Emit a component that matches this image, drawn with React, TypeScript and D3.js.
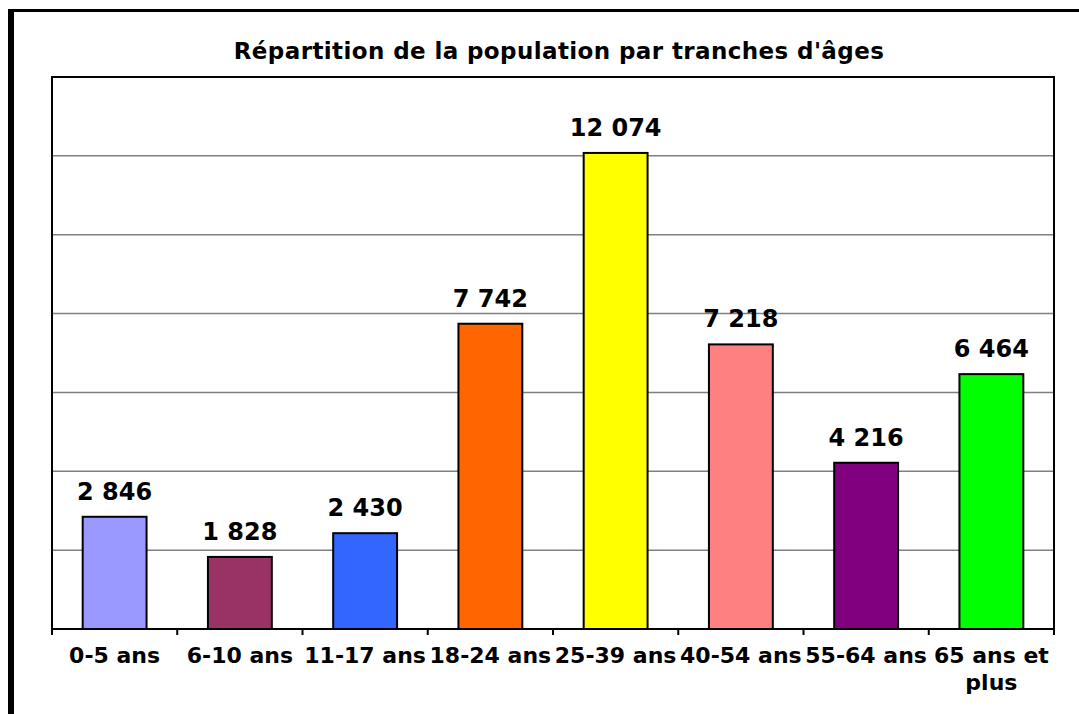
import React, { useEffect, useRef } from 'react';
import * as d3 from 'd3';

const categories = ['0-5 ans', '6-10 ans', '11-17 ans', '18-24 ans', '25-39 ans', '40-54 ans', '55-64 ans', '65 ans et plus'];
const values = [2846, 1828, 2430, 7742, 12074, 7218, 4216, 6464];
const barColors = ['#9999FF', '#993366', '#3366FF', '#FF6600', '#FFFF00', '#FF8080', '#800080', '#00FF00'];
const yTicks = [0, 2000, 4000, 6000, 8000, 10000, 12000, 14000];
const title = "Répartition de la population par tranches d'âges";

const App = () => {
  const svgRef = useRef<SVGSVGElement>(null);

  useEffect(() => {
    const W = 1079, H = 714;
    const plot = { left: 52, right: 1054, top: 77, bottom: 629 };
    const font = "'DejaVu Sans', Verdana, sans-serif";

    const svg = d3.select(svgRef.current);
    svg.selectAll('*').remove();
    svg.attr('width', W).attr('height', H);

    svg.append('rect').attr('width', W).attr('height', H).attr('fill', '#fff');

    // outer frame (top and left edges visible)
    svg.append('line').attr('x1', 8).attr('x2', W).attr('y1', 10.5).attr('y2', 10.5)
      .attr('stroke', '#000').attr('stroke-width', 3);
    svg.append('line').attr('x1', 11).attr('x2', 11).attr('y1', 9).attr('y2', H)
      .attr('stroke', '#000').attr('stroke-width', 6);

    svg.append('text')
      .attr('x', 559).attr('y', 59)
      .attr('text-anchor', 'middle')
      .attr('font-family', font).attr('font-weight', 'bold').attr('font-size', 23)
      .attr('letter-spacing', 0.4)
      .text(title);

    const x = d3.scaleBand<string>()
      .domain(categories)
      .range([plot.left, plot.right])
      .paddingInner(0.49)
      .paddingOuter(0.245);

    const y = d3.scaleLinear()
      .domain([0, d3.max(yTicks) as number])
      .range([plot.bottom, plot.top]);

    // gridlines
    svg.append('g').selectAll('line')
      .data(yTicks.slice(1, -1))
      .enter().append('line')
      .attr('x1', plot.left).attr('x2', plot.right)
      .attr('y1', d => y(d)).attr('y2', d => y(d))
      .attr('stroke', '#808080').attr('stroke-width', 1.5);

    // plot area border
    svg.append('rect')
      .attr('x', plot.left).attr('y', plot.top)
      .attr('width', plot.right - plot.left).attr('height', plot.bottom - plot.top)
      .attr('fill', 'none').attr('stroke', '#000').attr('stroke-width', 2);

    // bars
    svg.append('g').selectAll('rect')
      .data(values)
      .enter().append('rect')
      .attr('x', (d, i) => x(categories[i]) as number)
      .attr('y', d => y(d))
      .attr('width', x.bandwidth())
      .attr('height', d => y(0) - y(d))
      .attr('fill', (d, i) => barColors[i])
      .attr('stroke', '#000').attr('stroke-width', 2);

    // x axis ticks at category boundaries
    const step = x.step();
    const bounds = categories.map(c => (x(c) as number) - step * 0.245).concat([plot.right]);
    svg.append('g').selectAll('line')
      .data(bounds)
      .enter().append('line')
      .attr('x1', d => d).attr('x2', d => d)
      .attr('y1', plot.bottom).attr('y2', plot.bottom + 6)
      .attr('stroke', '#000').attr('stroke-width', 2);

    // value labels
    const fr = d3.formatLocale({ decimal: ',', thousands: ' ', grouping: [3], currency: ['', ' €'] });
    const fmt = fr.format(',d');
    svg.append('g').selectAll('text')
      .data(values)
      .enter().append('text')
      .attr('x', (d, i) => (x(categories[i]) as number) + x.bandwidth() / 2)
      .attr('y', d => y(d) - 17)
      .attr('text-anchor', 'middle')
      .attr('font-family', font).attr('font-weight', 'bold').attr('font-size', 24)
      .text(d => fmt(d));

    // category labels (wrap last one)
    const labels = svg.append('g');
    categories.forEach(c => {
      const cx = (x(c) as number) + x.bandwidth() / 2;
      const lines = c === '65 ans et plus' ? ['65 ans et', 'plus'] : [c];
      const t = labels.append('text')
        .attr('text-anchor', 'middle')
        .attr('font-family', font).attr('font-weight', 'bold').attr('font-size', 22);
      lines.forEach((l, j) => {
        t.append('tspan').attr('x', cx).attr('y', 663 + j * 27).text(l);
      });
    });
  }, []);

  return (
    <svg ref={svgRef} style={{ position: 'absolute', left: 0, top: 0, display: 'block' }}></svg>
  );
};

export default App;
